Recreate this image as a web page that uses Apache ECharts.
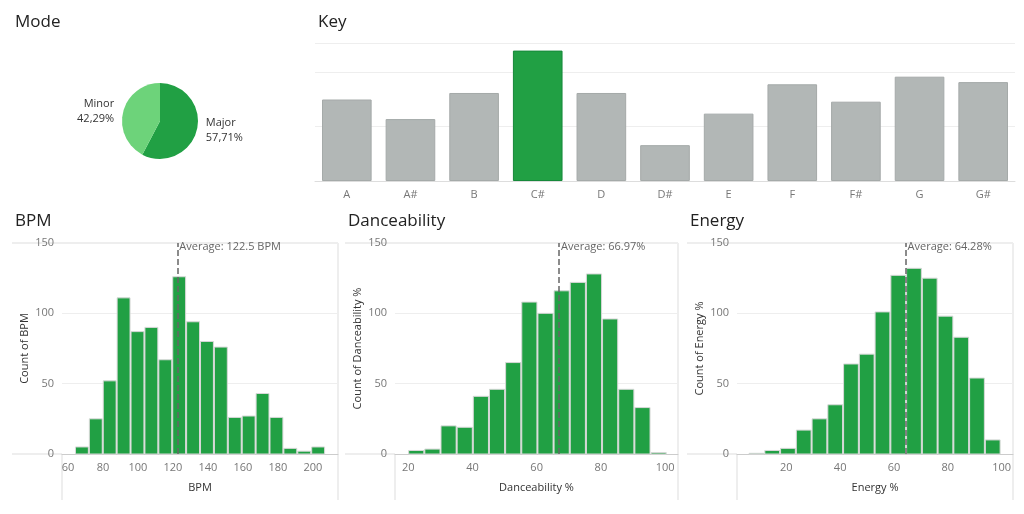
<!DOCTYPE html>
<html><head><meta charset="utf-8">
<script src="https://cdn.jsdelivr.net/npm/echarts@6/dist/echarts.min.js"></script>
<style>html,body{margin:0;padding:0;background:#fff}#c{width:1024px;height:514px}</style>
</head><body><div id="c"></div>
<script>
const modeNames=['Major','Minor'];
const modeValues=[57.71,42.29];
const keyCats=['A','A#','B','C#','D','D#','E','F','F#','G','G#'];
const keyValues=[75,57,81,120,81,33,62,89,73,96,91];
const bpmStart=64, bpmWidth=7.94;
const bpmCounts=[5,25,52,111,87,90,67,126,94,80,76,26,27,43,26,4,2,5];
const danceStart=20, danceWidth=5.03;
const danceCounts=[2.5,3.5,20,19,41,46,65,108,100,116,122,128,96,46,33,1];
const energyStart=6, energyWidth=5.85;
const energyCounts=[0.5,2.5,4,17,25,35,64,71,101,127,132,125,98,83,54,10];
const bpmTicks=[60,80,100,120,140,160,180,200];
const pctTicksD=[20,40,60,80,100];
const pctTicksE=[20,40,60,80,100];
const avgs=[122.5,66.97,64.28];
const avgLabels=['Average: 122.5 BPM','Average: 66.97%','Average: 64.28%'];

const green='#21a044', grey='#b2b7b6', txt='#555';
const font='"Open Sans", "Noto Sans", sans-serif';
const chart=echarts.init(document.getElementById('c'));
const grids=[
 {left:315,top:43,width:700,height:138},
 {left:62,top:243,width:276,height:211},
 {left:395,top:243,width:283,height:211},
 {left:737,top:243,width:276,height:211}
];
const hist=[
 {start:bpmStart,w:bpmWidth,c:bpmCounts,min:56.6,max:214.3,ticks:bpmTicks,name:'BPM',yname:'Count of BPM'},
 {start:danceStart,w:danceWidth,c:danceCounts,min:15.9,max:104,ticks:pctTicksD,name:'Danceability %',yname:'Count of Danceability %'},
 {start:energyStart,w:energyWidth,c:energyCounts,min:1.7,max:104.2,ticks:pctTicksE,name:'Energy %',yname:'Count of Energy %'}
];
const xAxis=[{gridIndex:0,type:'category',data:keyCats,axisLine:{lineStyle:{color:'#ddd'}},axisTick:{show:false},
  axisLabel:{color:'#777',fontSize:11,fontFamily:font}}];
const yAxis=[{gridIndex:0,type:'value',min:0,max:127,interval:50,axisLabel:{show:false},splitLine:{lineStyle:{color:'#eee'}}}];
const series=[
 {type:'pie',center:[160,121],radius:38,startAngle:90,clockwise:true,
  data:modeNames.map((n,i)=>({name:n,value:modeValues[i],itemStyle:{color:i?'#6dd37a':green}})),
  label:{formatter:p=>p.name+'\n'+p.value.toFixed(2).replace('.',',')+'%',color:'#333',fontSize:11,fontFamily:font,lineHeight:15},
  labelLine:{show:false,length:2,length2:2}},
 {type:'bar',xAxisIndex:0,yAxisIndex:0,barCategoryGap:'22%',
  data:keyValues.map((v,i)=>({value:v,itemStyle:{color:keyCats[i]==='C#'?green:grey,borderColor:keyCats[i]==='C#'?'#16893a':'#a5aaa9',borderWidth:1}}))}
];
hist.forEach((h,k)=>{
  const gi=k+1;
  xAxis.push({gridIndex:gi,type:'value',min:h.min,max:h.max,name:h.name,nameLocation:'middle',nameGap:28,
    nameTextStyle:{color:'#333',fontSize:11,fontFamily:font},
    axisLine:{show:true,lineStyle:{color:'#ccc'}},axisTick:{show:false},splitLine:{show:false},
    axisLabel:{customValues:h.ticks,color:'#777',fontSize:11,fontFamily:font,showMinLabel:true,showMaxLabel:true}});
  yAxis.push({gridIndex:gi,type:'value',min:0,max:150,interval:50,name:h.yname,nameLocation:'middle',nameGap:32,
    nameTextStyle:{color:'#333',fontSize:11,fontFamily:font},
    axisLine:{show:false},axisTick:{show:false},axisLabel:{color:'#777',fontSize:11,fontFamily:font},
    splitLine:{lineStyle:{color:'#eee'}}});
  series.push({type:'custom',xAxisIndex:gi,yAxisIndex:gi,
    data:h.c.map((v,i)=>[h.start+i*h.w,h.start+(i+1)*h.w,v]),
    encode:{x:[0,1],y:2},
    renderItem:(params,api)=>{
      const p0=api.coord([api.value(0),0]);const p1=api.coord([api.value(1),api.value(2)]);
      return {type:'rect',shape:{x:p0[0]+0.5,y:p1[1],width:p1[0]-p0[0]-1,height:p0[1]-p1[1]},
        style:{fill:green,stroke:'#d8d8d8',lineWidth:1}};
    },
    markLine:{silent:true,symbol:'none',label:{show:false},lineStyle:{color:'#666',type:'dashed',width:1.5},
      data:[[{coord:[avgs[k],0]},{coord:[avgs[k],150]}]]},
    markPoint:{symbolSize:0,data:[{coord:[avgs[k],150]}],
      label:{show:true,position:'right',distance:2,formatter:avgLabels[k],color:'#666',fontSize:11,fontFamily:font,offset:[0,4]}}
  });
});
const titles=[['Mode',15,14],['Key',318,14],['BPM',15,213],['Danceability',348,213],['Energy',690,213]];
const graphic=titles.map(t=>({type:'text',left:t[1],top:t[2],style:{text:t[0],fontSize:17,fontFamily:font,fill:'#222'}}));
[[62,454,62,500],[395,454,395,500],[737,454,737,500],[12,243,338,243],[345,243,678,243],[687,243,1013,243],
 [12,454,62,454],[345,454,395,454],[687,454,737,454],[338,243,338,500],[678,243,678,500],[1013,243,1013,500]].forEach(l=>
 graphic.push({type:'line',shape:{x1:l[0],y1:l[1],x2:l[2],y2:l[3]},style:{stroke:'#ddd',lineWidth:1}}));
chart.setOption({animation:false,grid:grids,xAxis,yAxis,series,graphic});
</script></body></html>
